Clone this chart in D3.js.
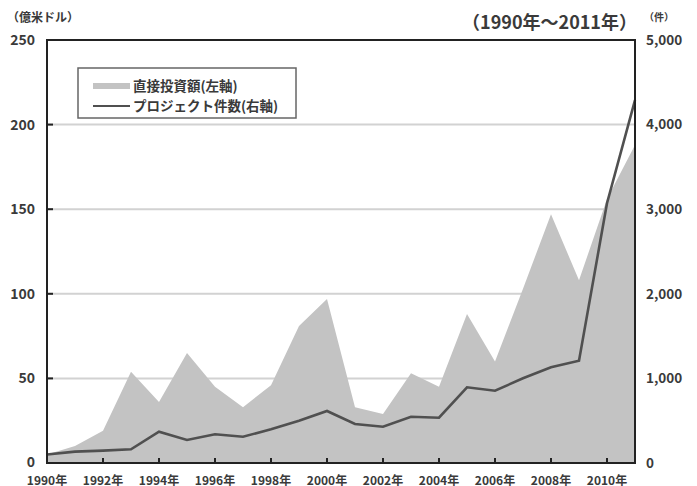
<!DOCTYPE html>
<html><head><meta charset="utf-8">
<script src="https://cdn.jsdelivr.net/npm/d3@7"></script>
<style>
html,body{margin:0;padding:0;background:#fff;}
svg{display:block;font-family:"Noto Sans CJK JP","Noto Sans",sans-serif;}
</style></head>
<body>
<svg id="c" width="697" height="486"></svg>
<script>
const years = [1990,1991,1992,1993,1994,1995,1996,1997,1998,1999,2000,2001,2002,2003,2004,2005,2006,2007,2008,2009,2010,2011];
const investment = [5,10,19,54,36,65,45,33,46,81,97,33,29,53,45,88,60,103,147,108,156,188];
const projects = [100,134,146,162,370,272,339,311,398,500,615,461,429,547,535,895,855,1001,1131,1209,3070,4290];
const leftTicks = [0,50,100,150,200,250];
const rightTicks = [0,1000,2000,3000,4000,5000];
const yearTicks = [1990,1992,1994,1996,1998,2000,2002,2004,2006,2008,2010];
const legendLabels = ["直接投資額(左軸)","プロジェクト件数(右軸)"];

const svg = d3.select("#c");
const L=47,R=635,T=40,B=463;
const x = d3.scaleLinear().domain([1990,2011]).range([L,R]);
const yL = d3.scaleLinear().domain([0,250]).range([B,T]);
const yR = d3.scaleLinear().domain([0,5000]).range([B,T]);
const txt="#3a3a3a";

// gridlines
svg.append("g").selectAll("line").data(leftTicks.filter(d=>d>0&&d<250)).join("line")
  .attr("x1",L).attr("x2",R).attr("y1",d=>yL(d)).attr("y2",d=>yL(d))
  .attr("stroke","#d2d2d2").attr("stroke-width",2);

// area
const data = years.map((y,i)=>({y, v:investment[i], c:projects[i]}));
svg.append("path").datum(data)
  .attr("d", d3.area().x(d=>x(d.y)).y0(B).y1(d=>yL(d.v)))
  .attr("fill","#c3c3c3");

// line
svg.append("path").datum(data)
  .attr("d", d3.line().x(d=>x(d.y)).y(d=>yR(d.c)))
  .attr("fill","none").attr("stroke","#505050").attr("stroke-width",2.6);

// frame
svg.append("rect").attr("x",L).attr("y",T).attr("width",R-L).attr("height",B-T)
  .attr("fill","none").attr("stroke","#222").attr("stroke-width",2);

// left axis ticks & labels
svg.append("g").selectAll("line").data(leftTicks.filter(d=>d>0&&d<250)).join("line")
  .attr("x1",L).attr("x2",L+6).attr("y1",d=>yL(d)).attr("y2",d=>yL(d))
  .attr("stroke","#222").attr("stroke-width",2);
svg.append("g").selectAll("text").data(leftTicks).join("text")
  .attr("x",35).attr("y",d=>yL(d)).attr("dy",d=>d===0?"0.25em":"0.35em").attr("text-anchor","end")
  .attr("font-size",14).attr("font-weight",700).attr("fill",txt).text(d=>d);

// right labels
svg.append("g").selectAll("text").data(rightTicks).join("text")
  .attr("x",646).attr("y",d=>yR(d)).attr("dy","0.35em").attr("text-anchor","start")
  .attr("font-size",13.5).attr("font-weight",700).attr("fill",txt).text(d=>d3.format(",")(d));

// bottom ticks & labels
svg.append("g").selectAll("line").data(yearTicks.filter(d=>d>1990)).join("line")
  .attr("x1",d=>x(d)).attr("x2",d=>x(d)).attr("y1",B).attr("y2",B-5)
  .attr("stroke","#222").attr("stroke-width",2);
svg.append("g").selectAll("text").data(yearTicks).join("text")
  .attr("x",d=>x(d)).attr("y",484.5).attr("text-anchor","middle")
  .attr("font-size",12).attr("font-weight",700).attr("fill",txt).text(d=>d+"年");

// unit labels & period
svg.append("text").attr("x",7).attr("y",22).attr("font-size",12).attr("font-weight",700)
  .attr("fill",txt).text("（億米ドル）");
svg.append("text").attr("x",644).attr("y",21).attr("font-size",10).attr("font-weight",700)
  .attr("fill",txt).text("（件）");
svg.append("text").attr("x",637).attr("y",29).attr("text-anchor","end").attr("font-size",18).attr("font-weight",700)
  .attr("fill",txt).text("（1990年～2011年）");

// legend
const lg = svg.append("g");
lg.append("rect").attr("x",78).attr("y",68).attr("width",218).attr("height",50)
  .attr("fill","#fff").attr("stroke","#666").attr("stroke-width",1.5);
lg.append("line").attr("x1",93).attr("x2",130).attr("y1",86).attr("y2",86)
  .attr("stroke","#c3c3c3").attr("stroke-width",6);
lg.append("line").attr("x1",93).attr("x2",130).attr("y1",106).attr("y2",106)
  .attr("stroke","#505050").attr("stroke-width",2.2);
lg.selectAll("text").data(legendLabels).join("text")
  .attr("x",133).attr("y",(d,i)=>86+i*20).attr("dy","0.35em")
  .attr("font-size",13.5).attr("font-weight",700).attr("fill",txt).text(d=>d);
</script>
</body></html>
